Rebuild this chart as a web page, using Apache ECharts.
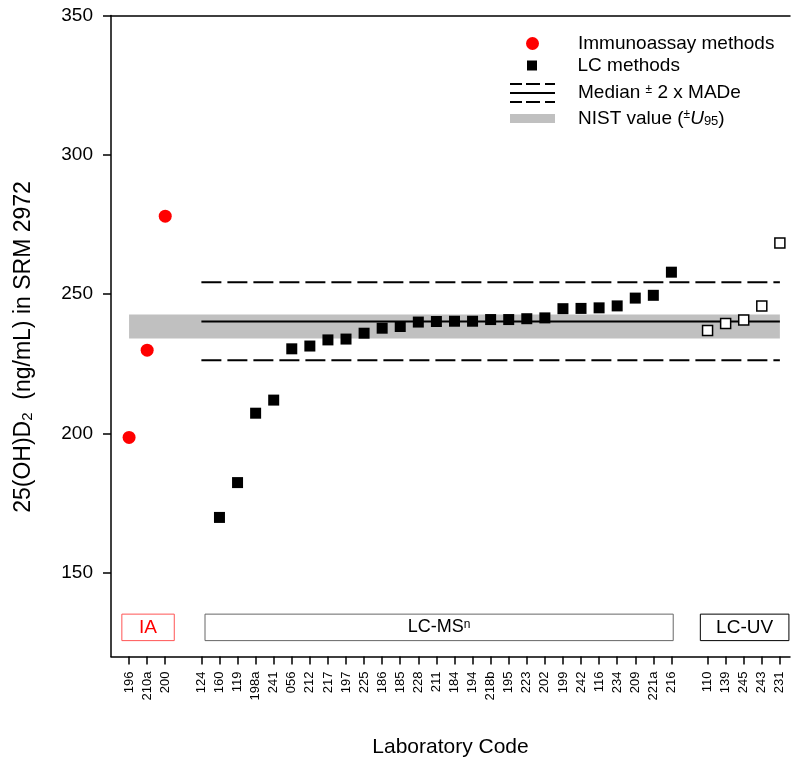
<!DOCTYPE html>
<html>
<head>
<meta charset="UTF-8">
<title>25(OH)D2 in SRM 2972</title>
<script src="https://cdn.jsdelivr.net/npm/echarts@6/dist/echarts.min.js"></script>
<style>html, body { margin: 0; padding: 0; background: #fff; }</style>
</head>
<body>
<div id="main" style="width: 791px; height: 764px;"></div>
<script>
    // laboratory codes and results
    var iaCodes = ['196', '210a', '200'];
    var iaValues = [198.6, 229.9, 278.0];

    var lcmsCodes = ['124', '160', '119', '198a', '241', '056', '212', '217', '197', '225', '186', '185', '228',
        '211', '184', '194', '218b', '195', '223', '202', '199', '242', '116', '234', '209', '221a', '216'];
    var lcmsValues = [null, 169.9, 182.4, 207.3, 212.0, 230.4, 231.4, 233.6, 233.9, 236.0, 237.8, 238.4, 240.0,
        240.2, 240.3, 240.3, 240.9, 240.9, 241.2, 241.5, 244.8, 244.9, 245.1, 245.8, 248.6, 249.6, 257.9];

    var lcuvCodes = ['110', '139', '245', '243', '231'];
    var lcuvValues = [237.0, 239.5, 240.7, 245.8, 268.4];

    var median = 240.2;
    var madeLow = 226.3;
    var madeHigh = 254.3;
    var nistLow = 234.1;
    var nistHigh = 242.7;

    var yTicks = [150, 200, 250, 300, 350];

    // one empty slot between method groups
    var codes = [].concat(iaCodes, [''], lcmsCodes, [''], lcuvCodes);
    var iaStart = 0;
    var lcmsStart = iaCodes.length + 1;
    var lcuvStart = lcmsStart + lcmsCodes.length + 1;
    var lastSlot = codes.length - 1;

    function pairs(start, vals) {
        return vals.map(function (v, i) { return [start + i, v]; })
            .filter(function (p) { return p[1] !== null; });
    }

    var tickSlots = [];
    codes.forEach(function (c, i) { if (c) tickSlots.push(i); });

    var font = "'Liberation Sans', Arial, sans-serif";

    var myChart = echarts.init(document.getElementById('main'));

    var legendText = {
        'Immunoassay methods': 'Immunoassay methods',
        'LC methods': 'LC methods',
        'Median ± 2 x MADe': 'Median {pm|±} 2 x MADe',
        'NIST value': 'NIST value ({pm|±}{it|U}{sub|95})'
    };

    function legendBox(name, left, top, w, h, icon, color) {
        return {
            data: [{name: name, icon: icon, itemStyle: {color: color, borderWidth: 0, opacity: 1}}],
            left: left,
            top: top,
            padding: 0,
            itemWidth: w,
            itemHeight: h,
            selectedMode: false,
            formatter: function (n) { return '{g|}' + legendText[n]; },
            textStyle: {
                color: '#000',
                fontSize: 19,
                fontFamily: font,
                rich: {
                    g: {width: 18},
                    pm: {fontSize: 12, verticalAlign: 'top'},
                    it: {fontStyle: 'italic', fontSize: 19},
                    sub: {fontSize: 13, verticalAlign: 'bottom'}
                }
            }
        };
    }

    var linesIcon = 'path://M0,0H12V2H0Z M16,0H30V2H16Z M35,0H45V2H35Z M0,9H45V11H0Z ' +
        'M0,18H12V20H0Z M16,18H30V20H16Z M35,18H45V20H35Z';

    function groupBox(name, from, to, border, color, size) {
        return [{
            name: name,
            xAxis: from,
            yAxis: 125.7,
            itemStyle: {color: '#fff', borderColor: border, borderWidth: 1},
            label: {
                show: true,
                position: 'inside',
                formatter: name === 'LC-MS' ? 'LC-MS{sup|n}' : name,
                color: color,
                fontSize: size,
                fontFamily: font,
                rich: {sup: {fontSize: 12, verticalAlign: 'top', color: color}}
            }
        }, {xAxis: to, yAxis: 135.2}];
    }

    var option = {
        backgroundColor: '#fff',
        animation: false,
        textStyle: {fontFamily: font},
        grid: {left: 111, right: 1, top: 15.5, bottom: 107.5, outerBoundsMode: 'none', containLabel: false},
        legend: [
            legendBox('Immunoassay methods', 526, 34, 45, 13, 'circle', '#ff0000'),
            legendBox('LC methods', 527, 56, 45, 10, 'path://M0,0H10V10H0Z', '#000'),
            legendBox('Median ± 2 x MADe', 510, 83, 45, 20, linesIcon, '#000'),
            legendBox('NIST value', 510, 109, 45, 9, 'rect', '#c0c0c0')
        ],
        xAxis: [{
            type: 'value',
            min: -1,
            max: 36.56,
            position: 'bottom',
            axisLine: {show: true, onZero: false, lineStyle: {color: '#000', width: 1.5}},
            axisTick: {show: true, customValues: tickSlots, length: 8, lineStyle: {color: '#000', width: 1.5}},
            axisLabel: {
                customValues: tickSlots,
                rotate: 90,
                margin: 15,
                fontSize: 13,
                color: '#000',
                formatter: function (v) { return codes[v]; }
            },
            splitLine: {show: false},
            name: 'Laboratory Code',
            nameLocation: 'middle',
            nameGap: 80,
            nameTextStyle: {fontSize: 21, color: '#000'}
        }, {
            type: 'value',
            min: -1,
            max: 36.56,
            position: 'top',
            axisLine: {show: true, onZero: false, lineStyle: {color: '#000', width: 1.5}},
            axisTick: {show: false},
            axisLabel: {show: false},
            splitLine: {show: false}
        }],
        yAxis: {
            type: 'value',
            min: 120,
            max: 350,
            axisLine: {show: true, onZero: false, lineStyle: {color: '#000', width: 1.5}},
            axisTick: {show: true, customValues: yTicks, length: 8, lineStyle: {color: '#000', width: 1.5}},
            axisLabel: {customValues: yTicks, margin: 18, fontSize: 19, color: '#000'},
            splitLine: {show: false},
            name: '25(OH)D{sub|2}  (ng/mL) in SRM 2972{pad|}',
            nameLocation: 'middle',
            nameGap: 76,
            nameTextStyle: {
                fontSize: 23,
                color: '#000',
                rich: {
                    sub: {fontSize: 15, verticalAlign: 'bottom', color: '#000'},
                    pad: {width: 22}
                }
            }
        },
        series: [
            {
                name: 'NIST value',
                type: 'line',
                data: [],
                z: 1,
                itemStyle: {color: '#c0c0c0'},
                markArea: {
                    silent: true,
                    itemStyle: {color: '#c0c0c0'},
                    data: [[{xAxis: iaStart, yAxis: nistLow}, {xAxis: lastSlot, yAxis: nistHigh}]]
                }
            },
            {
                name: 'groups',
                type: 'line',
                data: [],
                markArea: {
                    silent: true,
                    data: [
                        groupBox('IA', iaStart - 0.4, iaStart + iaCodes.length - 0.5, '#ff5555', '#ff0000', 19),
                        groupBox('LC-MS', lcmsStart + 0.2, lcmsStart + lcmsCodes.length - 0.9, '#666', '#000', 18),
                        groupBox('LC-UV', lcuvStart - 0.4, lastSlot + 0.5, '#000', '#000', 19)
                    ]
                }
            },
            {
                name: 'Median ± 2 x MADe',
                type: 'line',
                z: 2,
                showSymbol: false,
                color: '#000',
                lineStyle: {color: '#000', width: 2},
                data: [[lcmsStart, median], [lastSlot, median]]
            },
            {
                name: 'MADe high',
                type: 'line',
                z: 2,
                showSymbol: false,
                lineStyle: {color: '#000', width: 2, type: [20, 6]},
                data: [[lcmsStart, madeHigh], [lastSlot, madeHigh]]
            },
            {
                name: 'MADe low',
                type: 'line',
                z: 2,
                showSymbol: false,
                lineStyle: {color: '#000', width: 2, type: [20, 6]},
                data: [[lcmsStart, madeLow], [lastSlot, madeLow]]
            },
            {
                name: 'Immunoassay methods',
                type: 'scatter',
                z: 3,
                symbol: 'circle',
                symbolSize: 13,
                itemStyle: {color: '#ff0000', opacity: 1},
                data: pairs(iaStart, iaValues)
            },
            {
                name: 'LC methods',
                type: 'scatter',
                z: 3,
                symbol: 'rect',
                symbolSize: 11,
                itemStyle: {color: '#000', opacity: 1},
                data: pairs(lcmsStart, lcmsValues)
            },
            {
                name: 'LC-UV',
                type: 'scatter',
                z: 3,
                symbol: 'rect',
                symbolSize: 10,
                itemStyle: {color: '#fff', borderColor: '#000', borderWidth: 1.5, opacity: 1},
                data: pairs(lcuvStart, lcuvValues)
            }
        ]
    };

    myChart.setOption(option);
</script>
</body>
</html>
